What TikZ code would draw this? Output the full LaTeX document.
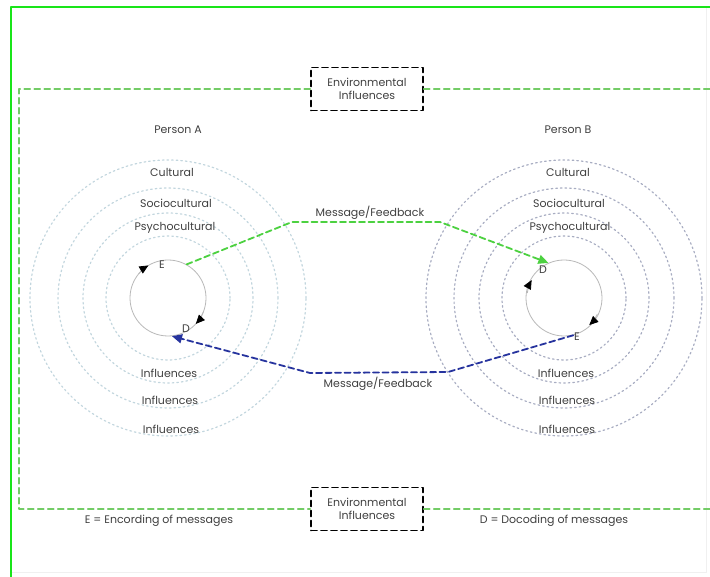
\documentclass[tikz,border=0pt]{standalone}
\usepackage{fontspec}
\setmainfont{Poppins}
\usetikzlibrary{arrows.meta}
\definecolor{lime}{rgb}{0.1,0.9,0.1}
\definecolor{envgreen}{rgb}{0.45,0.8,0.4}
\definecolor{msggreen}{rgb}{0.3,0.82,0.25}
\definecolor{msgblue}{rgb}{0.15,0.2,0.62}
\definecolor{ringA}{rgb}{0.76,0.84,0.87}
\definecolor{ringB}{rgb}{0.66,0.68,0.76}
\definecolor{txt}{rgb}{0.25,0.25,0.25}
\tikzset{
    lbl/.style = {font=\fontsize{11}{13}\selectfont, text=txt, inner sep=1pt},
    envbox/.style = {lbl, draw=black, line width=1.6pt, dash pattern=on 6pt off 4pt,
        minimum width=112pt, minimum height=43pt, align=center},
    ring/.style = {line width=1.2pt, dash pattern=on 1.6pt off 3pt},
    core/.style = {draw=gray!55, circle, minimum size=76pt, inner sep=0pt, line width=0.8pt},
    msg/.style = {line width=1.8pt, dash pattern=on 6pt off 3.5pt, -{Triangle[length=10pt,width=9pt]}},
    turn/.style = {gray!55, line width=0.8pt, -{Triangle[black,length=9pt,width=8pt]}}
}
\begin{document}
\begin{tikzpicture}[x=1pt,y=-1pt,line cap=round,line join=round]
\useasboundingbox (0,0) rectangle (710,577);
\fill[white] (0,0) rectangle (710,577);
\draw[gray!12, line width=1pt] (11,572) -- (706,572) -- (706,7);
\draw[lime, line width=2.6pt] (11,577) -- (11,7) -- (710,7);
\node[envbox] (envtop) at (367,89) {Environmental\\Influences};
\node[envbox] (envbot) at (367,509) {Environmental\\Influences};
\draw[envgreen, line width=1.5pt, dash pattern=on 6pt off 4pt] (envtop.west) -- (19,89) -- (19,509) -- (envbot.west);
\draw[envgreen, line width=1.5pt, dash pattern=on 6pt off 4pt] (envtop.east) -- (710,89);
\draw[envgreen, line width=1.5pt, dash pattern=on 6pt off 4pt] (envbot.east) -- (710,509);
\coordinate (cA) at (168,298);
\coordinate (cB) at (564,298);
\foreach \r in {62,85,110,138} {
    \draw[ring, ringA] (cA) circle[radius=\r pt];
    \draw[ring, ringB] (cB) circle[radius=\r pt];
}
\node[core] (circA) at (cA) {};
\node[core] (circB) at (cB) {};
\node[lbl] (personA) at (178,130) {Person A};
\node[lbl] (personB) at (568,130) {Person B};
\node[lbl] (cultA) at (172,172) {Cultural};
\node[lbl] (socioA) at (176,203) {Sociocultural};
\node[lbl] (psychoA) at (175,228) {Psychocultural};
\node[lbl] (inflA1) at (169,373) {Influences};
\node[lbl] (inflA2) at (170,400) {Influences};
\node[lbl] (inflA3) at (171,429) {Influences};
\node[lbl] (cultB) at (568,172) {Cultural};
\node[lbl] (socioB) at (569,203) {Sociocultural};
\node[lbl] (psychoB) at (570,228) {Psychocultural};
\node[lbl] (inflB1) at (566,373) {Influences};
\node[lbl] (inflB2) at (567,400) {Influences};
\node[lbl] (inflB3) at (567,429) {Influences};
\node[lbl] (encA) at (162,265) {E};
\node[lbl] (decA) at (186,329) {D};
\node[lbl] (decB) at (543,270) {D};
\node[lbl] (encB) at (577,337) {E};
\draw[turn] ([shift={(140:38pt)}]cA) arc[start angle=140, end angle=121, radius=38pt];
\draw[turn] ([shift={(-22:38pt)}]cA) arc[start angle=-22, end angle=-43, radius=38pt];
\draw[turn] ([shift={(172:37pt)}]cB) arc[start angle=172, end angle=151, radius=37pt];
\draw[turn] ([shift={(-26:37pt)}]cB) arc[start angle=-26, end angle=-47, radius=37pt];
\coordinate (gA) at (292,222);
\coordinate (gB) at (440,222);
\coordinate (bB) at (448,372);
\coordinate (bA) at (310,373);
\draw[msg, msggreen] (circA.61) -- (gA) -- (gB) -- (circB.114);
\draw[msg, msgblue] (circB.-76) -- (bB) -- (bA) -- (circA.-84);
\node[lbl] (msgtop) at (370,213) {Message/Feedback};
\node[lbl] (msgbot) at (378,384) {Message/Feedback};
\node[lbl] (keyE) at (159,521) {E = Encording of messages};
\node[lbl] (keyD) at (554,521) {D = Docoding of messages};
\end{tikzpicture}
\end{document}
